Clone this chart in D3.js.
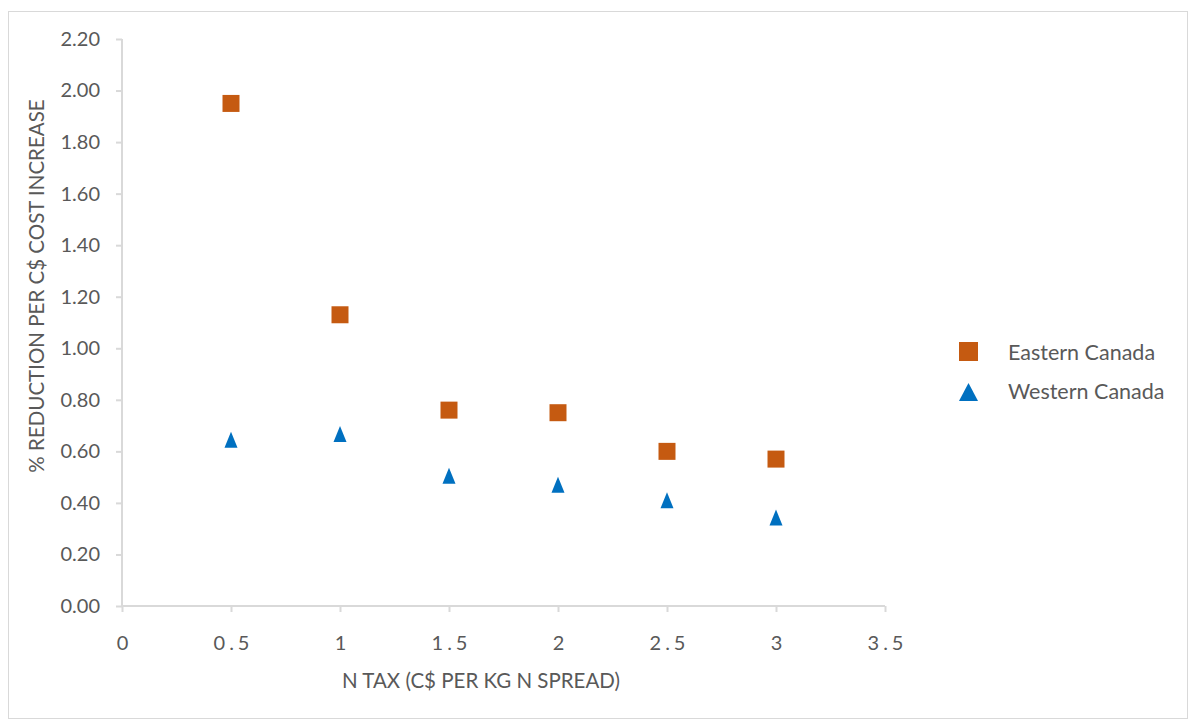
<!DOCTYPE html>
<html>
<head>
<meta charset="utf-8">
<script src="https://cdn.jsdelivr.net/npm/d3@7"></script>
<style>
  body { margin: 0; background: #fff; }
  text { font-family: Lato, "Open Sans", sans-serif; fill: #595959; }
</style>
</head>
<body>
<div id="chart"></div>
<script>
"use strict"
// data
var xValues = [0.5, 1, 1.5, 2, 2.5, 3]
var eastern = [1.95, 1.13, 0.76, 0.75, 0.60, 0.57]
var western = [0.645, 0.667, 0.505, 0.47, 0.41, 0.343]
var seriesNames = ["Eastern Canada", "Western Canada"]
var yTicks = [0, 0.2, 0.4, 0.6, 0.8, 1.0, 1.2, 1.4, 1.6, 1.8, 2.0, 2.2]
var xTicks = [0, 0.5, 1, 1.5, 2, 2.5, 3, 3.5]

var width = 1190, height = 720
var margin = {top: 39, left: 122}
var drawWidth = 763, drawHeight = 567

var svg = d3.select("#chart").append("svg")
    .attr("width", width)
    .attr("height", height)

// outer frame
svg.append("rect")
    .attr("x", 8.5).attr("y", 11.5)
    .attr("width", 1179).attr("height", 707)
    .attr("fill", "none")
    .attr("stroke", "#d9d9d9")
    .attr("stroke-width", 1)

var xScale = d3.scaleLinear().domain([0, 3.5]).range([0, drawWidth])
var yScale = d3.scaleLinear().domain([0, 2.2]).range([drawHeight, 0])

var g = svg.append("g")
    .attr("transform", "translate(" + margin.left + "," + margin.top + ")")

// x axis
var xAxis = g.append("g")
    .attr("transform", "translate(0," + drawHeight + ")")
    .call(d3.axisBottom(xScale).tickValues(xTicks).tickSize(6).tickPadding(24)
      .tickFormat(function(d) { return String(d) }))
xAxis.selectAll("path, line").attr("stroke", "#d9d9d9").attr("stroke-width", 2)
xAxis.select(".domain").attr("d", "M0,0H" + drawWidth)
xAxis.selectAll("text")
    .style("font-family", "Lato, sans-serif")
    .style("font-size", "20px")
    .style("letter-spacing", "4px")
    .attr("dx", "2px")
    .attr("fill", "#595959")

// y axis
var yAxis = g.append("g")
    .call(d3.axisLeft(yScale).tickValues(yTicks).tickSize(6).tickPadding(16)
      .tickFormat(d3.format(".2f")))
yAxis.selectAll("path, line").attr("stroke", "#d9d9d9").attr("stroke-width", 2)
yAxis.select(".domain").attr("d", "M0,0V" + drawHeight)
yAxis.selectAll("text")
    .style("font-family", "Lato, sans-serif")
    .style("font-size", "20px")
    .attr("fill", "#595959")

// axis titles
svg.append("text")
    .attr("x", 481).attr("y", 688)
    .attr("text-anchor", "middle")
    .style("font-size", "20.5px")
    .text("N TAX (C$ PER KG N SPREAD)")

svg.append("text")
    .attr("transform", "translate(44," + 286 + ") rotate(-90)")
    .attr("text-anchor", "middle")
    .style("font-size", "20.5px")
    .text("% REDUCTION PER C$ COST INCREASE")

var square = d3.symbol().type(d3.symbolSquare).size(289)
var triangle = function() {
  // Excel-style triangle: 13 wide, 16 tall, centred on the point
  return "M0,-8L6.5,8L-6.5,8Z"
}

// Eastern Canada squares
g.selectAll(".east").data(xValues).enter().append("path")
    .attr("class", "east")
    .attr("transform", function(d, i) { return "translate(" + xScale(d) + "," + yScale(eastern[i]) + ")" })
    .attr("d", square)
    .attr("fill", "#c55a11")

// Western Canada triangles
g.selectAll(".west").data(xValues).enter().append("path")
    .attr("class", "west")
    .attr("transform", function(d, i) { return "translate(" + xScale(d) + "," + yScale(western[i]) + ")" })
    .attr("d", triangle)
    .attr("fill", "#0070c0")

// legend
var legend = svg.append("g")
legend.append("path")
    .attr("transform", "translate(968.5,351.5)")
    .attr("d", d3.symbol().type(d3.symbolSquare).size(361))
    .attr("fill", "#c55a11")
legend.append("path")
    .attr("transform", "translate(968.5,392)")
    .attr("d", "M0,-9L9.5,9L-9.5,9Z")
    .attr("fill", "#0070c0")
legend.selectAll(".lt").data(seriesNames).enter().append("text")
    .attr("class", "lt")
    .attr("x", 1008)
    .attr("y", function(d, i) { return 360 + i * 39 })
    .style("font-size", "21.5px")
    .text(function(d) { return d })
</script>
</body>
</html>
